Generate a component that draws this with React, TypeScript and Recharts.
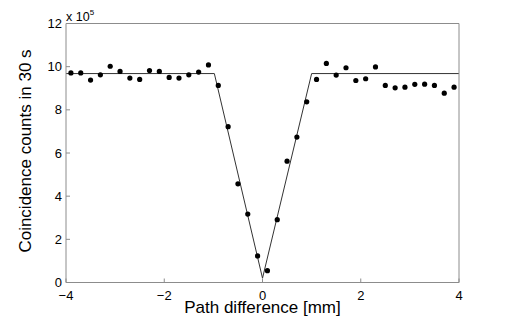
import { ComposedChart, Scatter, Line, XAxis, YAxis } from "recharts"

// measured coincidence counts (units of 1e5) vs path difference in mm
const pathDiff = [
  -3.9, -3.7, -3.5, -3.3, -3.1, -2.9, -2.7, -2.5, -2.3, -2.1, -1.9, -1.7, -1.5, -1.3, -1.1, -0.9,
  -0.7, -0.5, -0.3, -0.1, 0.1, 0.3, 0.5, 0.7, 0.9, 1.1, 1.3, 1.5, 1.7, 1.9, 2.1, 2.3, 2.5, 2.7,
  2.9, 3.1, 3.3, 3.5, 3.7, 3.9,
]
const counts = [
  9.71, 9.71, 9.38, 9.62, 10.02, 9.78, 9.47, 9.41, 9.82, 9.78, 9.5, 9.47, 9.62, 9.75, 10.08, 9.13,
  7.22, 4.57, 3.17, 1.23, 0.55, 2.91, 5.62, 6.74, 8.37, 9.41, 10.15, 9.61, 9.95, 9.36, 9.44, 9.99,
  9.13, 9.02, 9.05, 9.18, 9.19, 9.13, 8.77, 9.05,
]

// triangular fit
const fitX = [-4, -0.98, 0, 1.0, 4]
const fitY = [9.68, 9.68, 0.2, 9.68, 9.68]

const xTicks = [-4, -2, 0, 2, 4]
const yTicks = [0, 2, 4, 6, 8, 10, 12]

const points = pathDiff.map((x, i) => ({ x, y: counts[i] }))
const fit = fitX.map((x, i) => ({ x, y: fitY[i] }))

const FONT = "'Liberation Sans', Arial, Helvetica, sans-serif"
const AXIS = "#8c8c8c"

const fmt = (v: number) => (v < 0 ? `\u2212${Math.abs(v)}` : `${v}`)

export default function App() {
  return (
    <div style={{ position: "absolute", left: 0, top: 0, width: 507, height: 317, background: "#fff" }}>
      <ComposedChart
        width={507}
        height={317}
        margin={{ top: 22.5, right: 47, bottom: 14.5, left: 10 }}
        style={{ fontFamily: FONT }}
      >
        <XAxis
          xAxisId="bottom"
          dataKey="x"
          type="number"
          domain={[-4, 4]}
          ticks={xTicks}
          tickFormatter={fmt}
          height={20}
          stroke={AXIS}
          tickSize={-4}
          tickMargin={12.5}
          tick={{ fill: "#000", fontSize: 13 }}
          label={{ value: "Path difference [mm]", position: "center", dy: 14, fill: "#000", fontSize: 17 }}
        />
        <XAxis
          xAxisId="top"
          orientation="top"
          dataKey="x"
          type="number"
          domain={[-4, 4]}
          ticks={xTicks}
          tickFormatter={() => ""}
          height={1}
          stroke={AXIS}
          tickSize={-4}
          label={{
            position: "insideTopLeft",
            content: ({ viewBox }: any) => (
              <text x={viewBox.x} y={viewBox.y - 1.5} fill="#000" fontSize={12.5} fontFamily={FONT}>
                x 10
                <tspan dy={-6} fontSize={8}>5</tspan>
              </text>
            ),
          }}
        />
        <YAxis
          yAxisId="left"
          type="number"
          domain={[0, 12]}
          ticks={yTicks}
          width={56}
          stroke={AXIS}
          tickSize={-4}
          tickMargin={8}
          tick={{ fill: "#000", fontSize: 13 }}
          label={{
            value: "Coincidence counts in 30 s",
            angle: -90,
            position: "center",
            dx: -13,
            dy: -2,
            fill: "#000",
            fontSize: 17,
          }}
        />
        <YAxis
          yAxisId="right"
          orientation="right"
          type="number"
          domain={[0, 12]}
          ticks={yTicks}
          tickFormatter={() => ""}
          width={1}
          stroke={AXIS}
          tickSize={-4}
        />
        <Line
          xAxisId="bottom"
          yAxisId="left"
          data={fit}
          dataKey="y"
          type="linear"
          stroke="#333"
          strokeWidth={1}
          dot={false}
          activeDot={false}
          isAnimationActive={false}
        />
        <Scatter
          xAxisId="bottom"
          yAxisId="left"
          data={points}
          dataKey="y"
          fill="#000"
          isAnimationActive={false}
          shape={(p: any) => <circle cx={p.cx} cy={p.cy} r={2.6} fill="#000" />}
        />
      </ComposedChart>
    </div>
  )
}
